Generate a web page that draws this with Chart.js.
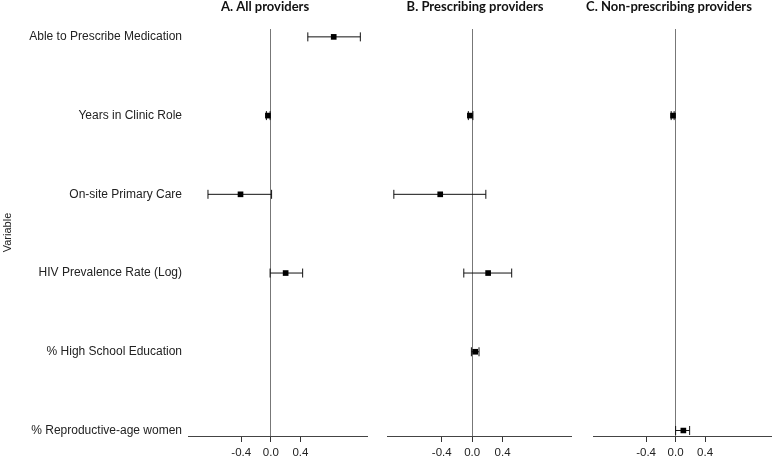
<!DOCTYPE html>
<html>
<head>
<meta charset="utf-8">
<script src="https://cdn.jsdelivr.net/npm/chart.js@4/dist/chart.umd.min.js"></script>
<style>
  body { margin: 0; background: #fff; overflow: hidden; }
  .panel { position: absolute; top: 0; height: 462px; }
</style>
</head>
<body>
<div class="panel" style="left:0;width:377px"><canvas id="chartA"></canvas></div>
<div class="panel" style="left:377px;width:200px"><canvas id="chartB"></canvas></div>
<div class="panel" style="left:577px;width:200px"><canvas id="chartC"></canvas></div>
<script>
// variables, top to bottom
const categories = [
    "Able to Prescribe Medication",
    "Years in Clinic Role",
    "On-site Primary Care",
    "HIV Prevalence Rate (Log)",
    "% High School Education",
    "% Reproductive-age women"
];

// A. All providers
const allEst  = [0.85, -0.04, -0.41, 0.20, null, null];
const allLow  = [0.50, -0.06, -0.85, -0.01, null, null];
const allHigh = [1.21, -0.01,  0.01, 0.43, null, null];

// B. Prescribing providers
const rxEst  = [null, -0.03, -0.42, 0.21, 0.04, null];
const rxLow  = [null, -0.05, -1.03, -0.11, -0.01, null];
const rxHigh = [null,  0.01,  0.18, 0.52, 0.09, null];

// C. Non-prescribing providers
const nonRxEst  = [null, -0.035, null, null, null, 0.105];
const nonRxLow  = [null, -0.06,  null, null, null, 0.0];
const nonRxHigh = [null, -0.02,  null, null, null, 0.19];

const xTicks = [-0.4, 0, 0.4];
const panelTitles = ["A. All providers", "B. Prescribing providers", "C. Non-prescribing providers"];

// draws the bold panel title above the plot
const panelTitlePlugin = {
    id: "panelTitle",
    afterDraw(chart, args, opts) {
        const ctx = chart.ctx;
        ctx.save();
        ctx.font = "bold 13px Lato, 'Liberation Sans', sans-serif";
        ctx.fillStyle = "#111";
        ctx.textAlign = "center";
        ctx.textBaseline = "middle";
        ctx.fillText(opts.text, opts.x, 7);
        ctx.restore();
    }
};

function buildDatasets(est, low, high) {
    let sets = [{
        data: est.map((v, i) => v === null ? null : { x: v, y: i }).filter(p => p),
        pointStyle: "rect",
        pointRadius: 4,
        backgroundColor: "#000",
        borderWidth: 0
    }];
    est.forEach((v, i) => {
        if (v === null) return;
        sets.push({
            data: [{ x: low[i], y: i }, { x: high[i], y: i }],
            showLine: true,
            borderColor: "#111",
            borderWidth: 1,
            pointStyle: "line",
            rotation: 90,
            pointRadius: 4.5,
            pointBorderColor: "#111",
            pointBorderWidth: 1
        });
    });
    return sets;
}

function makePanel(id, est, low, high, title, titleX, padLeft, padRight, showY) {
    new Chart(document.getElementById(id), {
        type: "scatter",
        data: { datasets: buildDatasets(est, low, high) },
        plugins: [panelTitlePlugin],
        options: {
            responsive: true,
            maintainAspectRatio: false,
            animation: false,
            layout: { padding: { top: 29, left: padLeft, right: padRight, bottom: 0 } },
            plugins: {
                legend: { display: false },
                tooltip: { enabled: false },
                panelTitle: { text: title, x: titleX }
            },
            scales: {
                x: {
                    type: "linear",
                    min: -1.12,
                    max: 1.3,
                    afterBuildTicks: s => { s.ticks = xTicks.map(v => ({ value: v })); },
                    afterFit: s => { s.height = 26; },
                    ticks: {
                        padding: 4,
                        color: "#222",
                        font: { family: "'Liberation Sans', Arial, sans-serif", size: 11.5 },
                        callback: v => v.toFixed(1)
                    },
                    grid: {
                        color: c => c.tick && c.tick.value === 0 ? "#777" : "rgba(0,0,0,0)",
                        tickColor: "#333",
                        tickLength: 6
                    },
                    border: { color: "#444", width: 1 }
                },
                y: {
                    type: "linear",
                    reverse: true,
                    min: -0.1,
                    max: 5.07,
                    display: showY,
                    afterBuildTicks: s => { s.ticks = categories.map((c, i) => ({ value: i })); },
                    afterFit: s => { if (showY) s.width = 188; },
                    ticks: {
                        padding: 6,
                        color: "#222",
                        font: { family: "'Liberation Sans', Arial, sans-serif", size: 12 },
                        callback: v => categories[v]
                    },
                    grid: { display: false, drawTicks: false },
                    border: { display: false },
                    title: {
                        display: true,
                        text: "Variable",
                        color: "#222",
                        padding: { top: 1, bottom: 0 },
                        font: { family: "'Liberation Sans', Arial, sans-serif", size: 11 }
                    }
                }
            }
        }
    });
}

makePanel("chartA", allEst, allLow, allHigh, panelTitles[0], 265, 0, 10, true);
makePanel("chartB", rxEst, rxLow, rxHigh, panelTitles[1], 98, 10, 6, false);
makePanel("chartC", nonRxEst, nonRxLow, nonRxHigh, panelTitles[2], 92, 16, 2, false);
</script>
</body>
</html>
